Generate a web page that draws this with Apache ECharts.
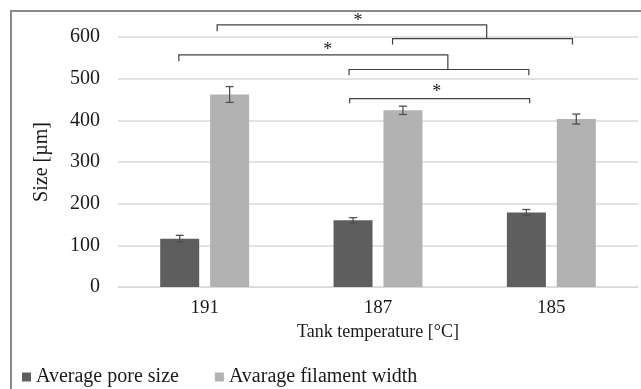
<!DOCTYPE html>
<html>
<head>
<meta charset="utf-8">
<script src="https://cdn.jsdelivr.net/npm/echarts@6/dist/echarts.min.js"></script>
<style>
html, body { margin: 0; padding: 0; background: #fff; }
#chart { width: 641px; height: 389px; }
</style>
</head>
<body>
<div id="chart"></div>
<script>
// data
var categories = ['191', '187', '185'];
var poreSize = [116, 160, 179];
var poreErr = [8, 6.5, 7];
var filamentWidth = [462, 424, 403];
var filamentErr = [19, 10, 12];

// significance brackets, x in category units (0 = first category), y in µm
var bracketLines = [
    [[0.072, 614], [0.072, 629], [1.627, 629], [1.627, 596]],
    [[1.084, 582], [1.084, 596], [2.122, 596], [2.122, 582]],
    [[-0.149, 542], [-0.149, 557], [1.403, 557], [1.403, 522]],
    [[0.833, 508], [0.833, 522], [1.870, 522], [1.870, 508]],
    [[0.837, 441], [0.837, 452], [1.875, 452], [1.875, 441]]
];
var starMarks = [[0.884, 647], [0.710, 578], [1.339, 477]];

var font = "'Liberation Serif', 'Times New Roman', serif";
var txt = '#1a1a1a';
var barW = 0.225, barGap = 0.28;
var barShift = barW * (1 + barGap) / 2;

function errItem(shift) {
    return function (params, api) {
        var ci = api.value(0), v = api.value(1), e = api.value(2);
        var band = api.size([1, 0])[0];
        var x = api.coord([ci, v])[0] + shift * band;
        var top = api.coord([ci, v + e])[1];
        var bot = api.coord([ci, v - e])[1];
        var st = { stroke: '#505050', lineWidth: 1.3 };
        return {
            type: 'group',
            children: [
                { type: 'line', shape: { x1: x, y1: top, x2: x, y2: bot }, style: st },
                { type: 'line', shape: { x1: x - 4, y1: top, x2: x + 4, y2: top }, style: st },
                { type: 'line', shape: { x1: x - 4, y1: bot, x2: x + 4, y2: bot }, style: st }
            ]
        };
    };
}

function pos(api, p) {
    var band = api.size([1, 0])[0];
    var c = api.coord([0, p[1]]);
    return [c[0] + p[0] * band, c[1]];
}

var chart = echarts.init(document.getElementById('chart'));
var option = {
    animation: false,
    graphic: [{
        type: 'rect',
        shape: { x: 11, y: 11, width: 700, height: 500 },
        style: { fill: 'none', stroke: '#8a8a8a', lineWidth: 2 },
        silent: true
    }],
    legend: {
        left: 17,
        top: 362,
        icon: 'rect',
        itemWidth: 9,
        itemHeight: 9,
        itemGap: 36,
        textStyle: { fontFamily: font, fontSize: 20, color: txt },
        data: ['Average pore size', 'Avarage filament width']
    },
    grid: { left: 118, right: 3, top: 37, bottom: 102 },
    xAxis: {
        type: 'category',
        data: categories,
        name: 'Tank temperature [°C]',
        nameLocation: 'middle',
        nameGap: 34,
        nameTextStyle: { fontFamily: font, fontSize: 18, color: txt },
        axisLine: { lineStyle: { color: '#d9d9d9' } },
        axisTick: { show: false },
        axisLabel: { fontFamily: font, fontSize: 19, color: txt, margin: 12 }
    },
    yAxis: {
        type: 'value',
        min: 0,
        max: 600,
        interval: 100,
        name: 'Size [µm]',
        nameLocation: 'middle',
        nameGap: 66,
        nameTextStyle: { fontFamily: font, fontSize: 20, color: txt },
        axisLine: { show: false },
        axisTick: { show: false },
        axisLabel: { fontFamily: font, fontSize: 20, color: txt, margin: 18 },
        splitLine: { lineStyle: { color: '#d9d9d9', width: 1.5 } }
    },
    series: [
        {
            name: 'Average pore size',
            type: 'bar',
            data: poreSize,
            barWidth: (barW * 100) + '%',
            barGap: (barGap * 100) + '%',
            itemStyle: { color: '#5e5e5e' }
        },
        {
            name: 'Avarage filament width',
            type: 'bar',
            data: filamentWidth,
            barWidth: (barW * 100) + '%',
            itemStyle: { color: '#b2b2b2' }
        },
        {
            type: 'custom',
            z: 5,
            renderItem: errItem(-barShift),
            data: poreSize.map(function (v, i) { return [i, v, poreErr[i]]; })
        },
        {
            type: 'custom',
            z: 5,
            renderItem: errItem(barShift),
            data: filamentWidth.map(function (v, i) { return [i, v, filamentErr[i]]; })
        },
        {
            type: 'custom',
            z: 5,
            clip: false,
            renderItem: function (params, api) {
                var pts = bracketLines[params.dataIndex].map(function (p) { return pos(api, p); });
                return {
                    type: 'polyline',
                    shape: { points: pts },
                    style: { fill: 'none', stroke: '#404040', lineWidth: 1.2 }
                };
            },
            data: bracketLines.map(function () { return [0, 0]; })
        },
        {
            type: 'custom',
            z: 5,
            clip: false,
            renderItem: function (params, api) {
                var p = pos(api, starMarks[params.dataIndex]);
                return {
                    type: 'text',
                    x: p[0],
                    y: p[1] + 4,
                    style: {
                        text: '*', fontFamily: font, fontSize: 18, fill: txt,
                        align: 'center', verticalAlign: 'middle'
                    }
                };
            },
            data: starMarks.map(function () { return [0, 0]; })
        }
    ]
};
chart.setOption(option);
</script>
</body>
</html>
